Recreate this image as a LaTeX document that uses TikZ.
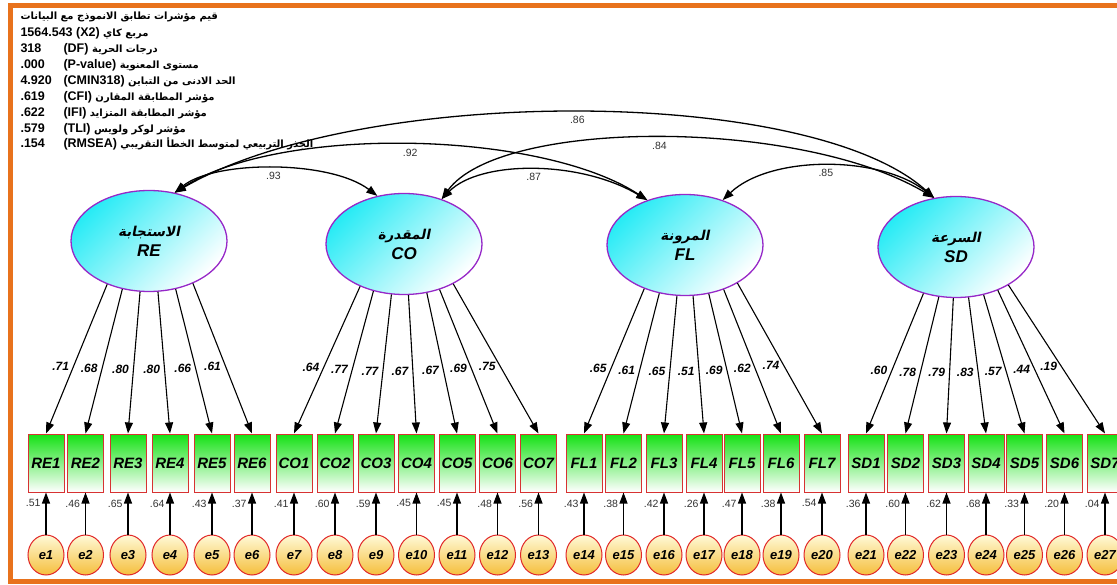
\documentclass[tikz,border=0pt]{standalone}
\usepackage{fontspec}
\setmainfont{Liberation Sans}
\newfontfamily\arabicfont[Script=Arabic,Scale=0.8]{DejaVu Sans}
\newfontfamily\arabicit[Script=Arabic,Scale=0.8,FakeSlant=0.2]{DejaVu Sans}
\TeXXeTstate=1
\usetikzlibrary{arrows.meta, shapes.geometric}

\definecolor{frameorange}{RGB}{232,114,28}
\definecolor{latentline}{RGB}{150,40,200}
\definecolor{latentfill}{RGB}{40,235,245}
\definecolor{itemline}{RGB}{215,50,50}
\definecolor{itemfill}{RGB}{20,225,20}
\definecolor{errline}{RGB}{225,40,40}
\definecolor{errfill}{RGB}{245,190,60}
\definecolor{errtop}{RGB}{255,250,215}
\definecolor{numgray}{RGB}{50,50,50}

\tikzset{
  latent/.style={ellipse, draw=latentline, line width=1.3pt, minimum width=156pt,
    minimum height=101pt, inner sep=0pt, top color=latentfill, bottom color=white,
    shading angle=45, align=center, font=\fontsize{17}{20}\selectfont\bfseries\itshape},
  item/.style={rectangle, draw=itemline, line width=1pt, minimum width=36pt,
    minimum height=58pt, inner sep=0pt, top color=itemfill, bottom color=white,
    font=\fontsize{15}{15}\selectfont\bfseries\itshape},
  err/.style={ellipse, draw=errline, line width=1pt, minimum width=36pt,
    minimum height=40pt, inner sep=0pt, top color=errtop, bottom color=errfill,
    font=\fontsize{13}{13}\selectfont\bfseries\itshape},
  stat/.style={anchor=base west, inner sep=0pt, font=\fontsize{12.5}{16}\selectfont\bfseries},
  lbl/.style={font=\fontsize{12}{12}\selectfont\bfseries\itshape, inner sep=0pt},
  small/.style={font=\fontsize{10.5}{10.5}\selectfont, text=numgray, inner sep=0pt},
  cov/.style={<->, line width=1.3pt}
}
\newcommand{\factorname}[1]{{\arabicit\upshape\bfseries\fontsize{17}{20}\selectfont\beginR #1\endR}}

\begin{document}
\begin{tikzpicture}[x=1pt, y=-1pt, >={Triangle[length=11pt,width=8pt]}, line width=1.1pt]
    \clip (0,0) rectangle (1117,585);
    \fill[white] (0,0) rectangle (1117,585);
    \draw[frameorange, line width=5pt] (10,5.5) rectangle (1140,581);

    % fit indices
    \node[stat] (hdr) at (20,20) {\arabicfont\beginR قيم مؤشرات تطابق الانموذج مع البيانات\endR};
    \node[stat] (chi) at (20,37) {1564.543 (X2) {\arabicfont\beginR مربع كاي\endR}};
    \node[stat] (dfv) at (20,53) {318};
    \node[stat] (dfl) at (63,53) {(DF) {\arabicfont\beginR درجات الحرية\endR}};
    \node[stat] (pv) at (20,69) {.000};
    \node[stat] (pl) at (63,69) {(P-value) {\arabicfont\beginR مستوى المعنوية\endR}};
    \node[stat] (cmv) at (20,85) {4.920};
    \node[stat] (cml) at (63,85) {(CMIN318) {\arabicfont\beginR الحد الادنى من التباين\endR}};
    \node[stat] (cfv) at (20,101) {.619};
    \node[stat] (cfl) at (63,101) {(CFI) {\arabicfont\beginR مؤشر المطابقة المقارن\endR}};
    \node[stat] (ifv) at (20,117) {.622};
    \node[stat] (ifl) at (63,117) {(IFI) {\arabicfont\beginR مؤشر المطابقة المتزايد\endR}};
    \node[stat] (tlv) at (20,133) {.579};
    \node[stat] (tll) at (63,133) {(TLI) {\arabicfont\beginR مؤشر لوكر ولويس\endR}};
    \node[stat] (rmv) at (20,148) {.154};
    \node[stat] (rml) at (63,148) {(RMSEA) {\arabicfont\beginR الجذر التربيعي لمتوسط الخطأ التقريبي\endR}};

    % latent factors
    \node[latent] (RE) at (149,241) {\factorname{الاستجابة}\\RE};
    \node[latent] (CO) at (404,244) {\factorname{المقدرة}\\CO};
    \node[latent] (FL) at (685,245) {\factorname{المرونة}\\FL};
    \node[latent] (SD) at (956,247) {\factorname{السرعة}\\SD};

    % indicators, errors, loadings
    \foreach \fac/\n/\x/\ang/\ld/\rr/\k in {
        RE/RE1/46/226/.71/.51/1, RE/RE2/85.5/241/.68/.46/2, RE/RE3/128/260/.80/.65/3,
        RE/RE4/170/280/.80/.64/4, RE/RE5/212/299/.66/.43/5, RE/RE6/252/316/.61/.37/6,
        CO/CO1/294/224/.64/.41/7, CO/CO2/335/237/.77/.60/8, CO/CO3/376/256/.77/.59/9,
        CO/CO4/416.5/275/.67/.45/10, CO/CO5/457/295/.67/.45/11, CO/CO6/497.5/308/.69/.48/12,
        CO/CO7/538.5/321/.75/.56/13,
        FL/FL1/584/227/.65/.43/14, FL/FL2/623.5/242/.61/.38/15, FL/FL3/664/261/.65/.42/16,
        FL/FL4/704/279/.51/.26/17, FL/FL5/742/296/.69/.47/18, FL/FL6/781/311/.62/.38/19,
        FL/FL7/822/324/.74/.54/20,
        SD/SD1/866/235/.60/.36/21, SD/SD2/905.5/251/.78/.60/22, SD/SD3/946.5/267/.79/.62/23,
        SD/SD4/986/284/.83/.68/24, SD/SD5/1024.5/300/.57/.33/25, SD/SD6/1064.5/314/.44/.20/26,
        SD/SD7/1105/324/.19/.04/27}
    {
        \node[item] (\n) at (\x,463) {\n};
        \node[err] (e\k) at (\x,555) {e\k};
        \draw[->] (\fac.\ang) -- node[lbl, pos=.55, left=4pt] (l\n) {\ld} (\n.north);
        \draw[->] (e\k) -- node[small, pos=.74, left=5pt] (r\n) {\rr} (\n.south);
    }

    % covariances
    \draw[cov] (RE.62) .. controls (215,160) and (330,160) .. node[small, pos=.5, below=3pt] (c93) {.93} (CO.119);
    \draw[cov] (RE.62) .. controls (280,125) and (540,130) .. node[small, pos=.5, below=4pt] (c92) {.92} (FL.130);
    \draw[cov] (RE.62) .. controls (360,85) and (810,85) .. node[small, pos=.5, below=3pt] (c86) {.86} (SD.114);
    \draw[cov] (CO.50) .. controls (480,160) and (580,160) .. node[small, pos=.5, below=3pt] (c87) {.87} (FL.130);
    \draw[cov] (CO.50) .. controls (500,118) and (800,118) .. node[small, pos=.5, below=3pt] (c84) {.84} (SD.114);
    \draw[cov] (FL.50) .. controls (770,155) and (880,155) .. node[small, pos=.5, below=3pt] (c85) {.85} (SD.114);
\end{tikzpicture}
\end{document}
